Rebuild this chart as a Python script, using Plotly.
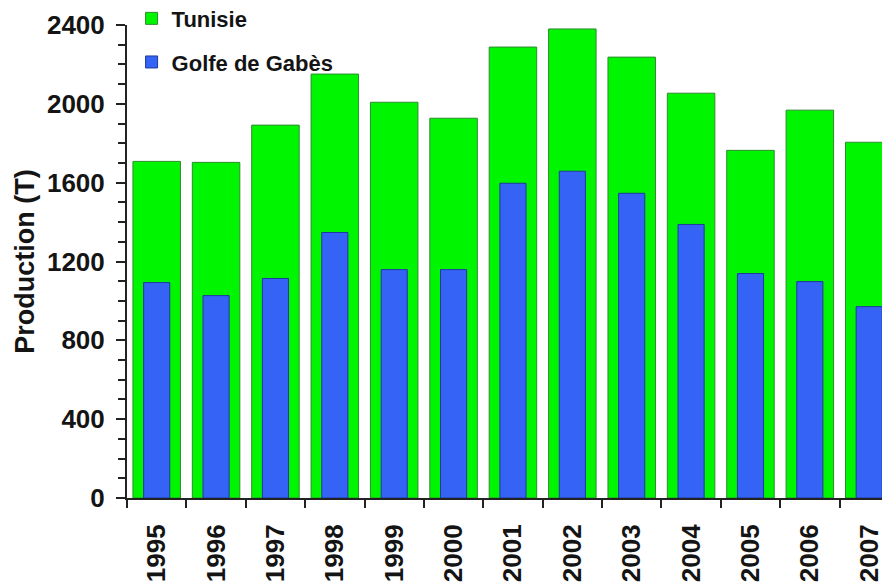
import plotly.graph_objects as go

years = ["1995", "1996", "1997", "1998", "1999", "2000", "2001",
         "2002", "2003", "2004", "2005", "2006", "2007"]
tunisie = [1708, 1703, 1892, 2151, 2008, 1927, 2288, 2380, 2237, 2054, 1764, 1968, 1805]
gabes = [1093, 1027, 1114, 1347, 1159, 1159, 1597, 1658, 1546, 1388, 1139, 1098, 971]

FONT = "Arial, Liberation Sans, sans-serif"
TXT = "#141414"

fig = go.Figure()
fig.add_trace(go.Bar(
    x=years, y=tunisie, name="Tunisie", width=0.8, legendgroup="a",
    marker=dict(color="#00F500", line=dict(color="#2E8B2E", width=1)),
))
fig.add_trace(go.Bar(
    x=years, y=gabes, name="Golfe de Gabès", width=0.44, legendgroup="b",
    marker=dict(color="#3563F5", line=dict(color="#1F3A9A", width=1)),
))

# page body adds an 8px offset, so the figure is sized to fill the rest of the window
fig.update_layout(
    width=882, height=575,
    margin=dict(l=119, r=0, t=17, b=85, autoexpand=False),
    barmode="overlay",
    plot_bgcolor="white", paper_bgcolor="white",
    font=dict(family=FONT, size=26, color=TXT, weight="bold"),
    showlegend=True,
    legend=dict(
        x=0.006, y=1.058, xanchor="left", yanchor="top",
        bgcolor="rgba(0,0,0,0)",
        font=dict(family=FONT, size=22, color=TXT, weight="bold"),
        traceorder="grouped", tracegroupgap=12,
        itemwidth=30,
    ),
    xaxis=dict(
        type="category",
        range=[-0.5, 12.35],
        showline=True, linecolor="#222222", linewidth=2,
        ticks="outside", tickson="boundaries", ticklen=8, tickwidth=2, tickcolor="#222222",
        tickangle=-90, ticklabelstandoff=14,
        tickfont=dict(family=FONT, size=26, color=TXT, weight="bold"),
        showgrid=False, zeroline=False,
    ),
    yaxis=dict(
        range=[0, 2400],
        tickvals=[0, 400, 800, 1200, 1600, 2000, 2400],
        showline=True, linecolor="#222222", linewidth=2,
        ticks="outside", ticklen=9, tickwidth=2, tickcolor="#222222",
        ticklabelstandoff=6,
        minor=dict(dtick=100, ticks="outside", ticklen=7, tickwidth=2, tickcolor="#222222"),
        tickfont=dict(family=FONT, size=26, color=TXT, weight="bold"),
        title=dict(text="Production (T)", font=dict(family=FONT, size=27, color=TXT, weight="bold"), standoff=5),
        showgrid=False, zeroline=False,
    ),
)

fig.write_html("out.html")
